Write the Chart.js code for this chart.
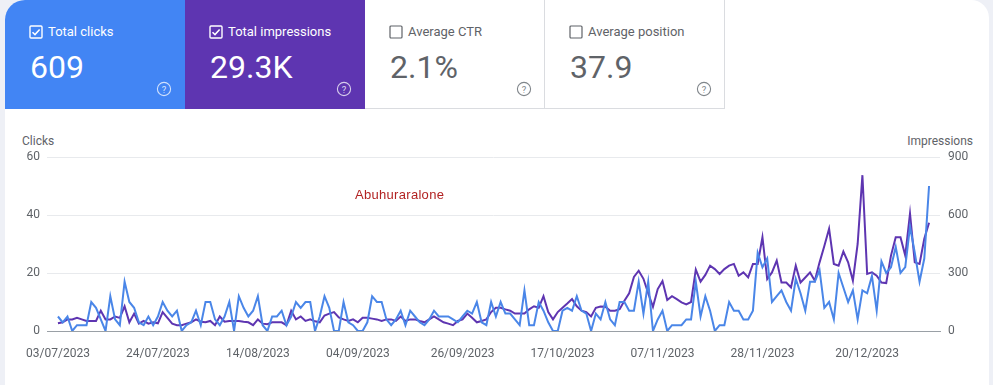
<!DOCTYPE html>
<html>
<head>
<meta charset="utf-8">
<script src="https://cdn.jsdelivr.net/npm/chart.js@4.4.1/dist/chart.umd.min.js"></script>
<style>
  html, body { margin: 0; padding: 0; }
  body { width: 993px; height: 385px; background: #eef0f6; font-family: Roboto, Arial, sans-serif; position: relative; overflow: hidden; }
  #card { position: absolute; left: 5px; top: 0; width: 984px; height: 400px; background: #fff; border-radius: 20px 18px 0 0; overflow: hidden; }
  .metric { position: absolute; top: 0; width: 180px; height: 109px; box-sizing: border-box; }
  .metric .lbl { position: absolute; left: 43px; top: 24px; font-size: 13px; line-height: 16px; }
  .metric .val { position: absolute; left: 25px; top: 51px; font-size: 32px; line-height: 32px; }
  .metric svg.cb { position: absolute; left: 24px; top: 25px; }
  .metric svg.help { position: absolute; left: 151px; top: 81px; }
  .on { color: #fff; }
  .off { color: #5f6368; border-right: 1px solid #dadce0; border-bottom: 1px solid #dadce0; }
  #wrap { position: absolute; left: 0; top: 131px; width: 993px; height: 254px; }
  .axt { position: absolute; top: 134px; font-size: 12px; line-height: 14px; color: #5f6368; }
  #wm { position: absolute; left: 355px; top: 187px; font-family: "Liberation Sans", Arial, sans-serif; font-size: 13px; color: #b22222; letter-spacing: 0.3px; }
</style>
</head>
<body>
<div id="card">
  <div class="metric on" style="left:0; background:#4285f4;">
    <svg class="cb" width="14" height="14" viewBox="0 0 14 14"><rect x="1" y="1" width="12" height="12" rx="1" fill="none" stroke="#fff" stroke-width="1.4"/><path d="M3.5 7.2 L6 9.6 L10.6 4.4" fill="none" stroke="#fff" stroke-width="1.5"/></svg>
    <div class="lbl">Total clicks</div>
    <div class="val">609</div>
    <svg class="help" width="16" height="16" viewBox="0 0 16 16"><circle cx="8" cy="8" r="6.6" fill="none" stroke="rgba(255,255,255,0.75)" stroke-width="1.1"/><text x="8" y="11.5" text-anchor="middle" font-size="9.5" fill="rgba(255,255,255,0.8)" font-family="Roboto">?</text></svg>
  </div>
  <div class="metric on" style="left:180px; background:#5e35b1;">
    <svg class="cb" width="14" height="14" viewBox="0 0 14 14"><rect x="1" y="1" width="12" height="12" rx="1" fill="none" stroke="#fff" stroke-width="1.4"/><path d="M3.5 7.2 L6 9.6 L10.6 4.4" fill="none" stroke="#fff" stroke-width="1.5"/></svg>
    <div class="lbl">Total impressions</div>
    <div class="val">29.3K</div>
    <svg class="help" width="16" height="16" viewBox="0 0 16 16"><circle cx="8" cy="8" r="6.6" fill="none" stroke="rgba(255,255,255,0.75)" stroke-width="1.1"/><text x="8" y="11.5" text-anchor="middle" font-size="9.5" fill="rgba(255,255,255,0.8)" font-family="Roboto">?</text></svg>
  </div>
  <div class="metric off" style="left:360px;">
    <svg class="cb" width="14" height="14" viewBox="0 0 14 14"><rect x="1" y="1" width="12" height="12" rx="1" fill="none" stroke="#5f6368" stroke-width="1.2"/></svg>
    <div class="lbl">Average CTR</div>
    <div class="val">2.1%</div>
    <svg class="help" width="16" height="16" viewBox="0 0 16 16"><circle cx="8" cy="8" r="6.6" fill="none" stroke="#80868b" stroke-width="1.1"/><text x="8" y="11.5" text-anchor="middle" font-size="9.5" fill="#80868b" font-family="Roboto">?</text></svg>
  </div>
  <div class="metric off" style="left:540px; width:180px;">
    <svg class="cb" width="14" height="14" viewBox="0 0 14 14"><rect x="1" y="1" width="12" height="12" rx="1" fill="none" stroke="#5f6368" stroke-width="1.2"/></svg>
    <div class="lbl">Average position</div>
    <div class="val">37.9</div>
    <svg class="help" width="16" height="16" viewBox="0 0 16 16"><circle cx="8" cy="8" r="6.6" fill="none" stroke="#80868b" stroke-width="1.1"/><text x="8" y="11.5" text-anchor="middle" font-size="9.5" fill="#80868b" font-family="Roboto">?</text></svg>
  </div>
</div>
<div class="axt" style="left:22px;">Clicks</div>
<div class="axt" style="right:20px;">Impressions</div>
<div id="wrap"><canvas id="chart" width="993" height="254"></canvas></div>
<div id="wm">Abuhuraralone</div>
<script>
// daily values, 03/07/2023 .. 02/01/2024
var startDate = new Date(2023, 6, 3);
var tickDates = ['03/07/2023', '24/07/2023', '14/08/2023', '04/09/2023', '26/09/2023',
                 '17/10/2023', '07/11/2023', '28/11/2023', '20/12/2023'];

var clicks = [
  5, 3, 5, 0, 2, 2, 2, 10, 8, 4, 0, 12, 4, 2, 17, 10, 8, 3, 2, 5,
  2, 5, 10, 7, 5, 7, 0, 2, 3, 7, 2, 10, 10, 4, 2, 5, 10, 0, 12, 8,
  5, 7, 12, 2, 0, 5, 5, 7, 2, 5, 10, 8, 10, 10, 0, 5, 12, 8, 0, 0,
  10, 3, 2, 0, 0, 3, 12, 10, 10, 4, 2, 4, 7, 2, 7, 5, 3, 2, 4, 7,
  5, 5, 5, 4, 3, 5, 7, 6, 10, 3, 2, 10, 5, 10, 6, 6, 4, 2, 14, 2,
  2, 10, 7, 3, 0, 0, 7, 8, 7, 12, 7, 6, 0, 6, 4, 10, 4, 2, 10, 10,
  7, 7, 17, 6, 17, 0, 4, 7, 0, 2, 2, 2, 4, 4, 17, 5, 12, 7, 0, 2,
  2, 10, 7, 7, 4, 4, 7, 27, 22, 25, 10, 12, 14, 10, 7, 18, 13, 7, 17, 17,
  21, 8, 10, 4, 20, 15, 10, 14, 4, 14, 13, 19, 7, 24, 20, 22, 29, 20, 22, 36,
  27, 17, 25, 50
];

var impressions = [
  40, 45, 60, 60, 68, 60, 52, 52, 52, 105, 60, 60, 75, 68, 128, 45, 90, 38, 52, 38,
  45, 40, 98, 68, 38, 30, 30, 38, 45, 60, 48, 45, 52, 30, 75, 48, 52, 52, 52, 48,
  45, 30, 60, 38, 35, 45, 45, 45, 30, 105, 60, 75, 52, 60, 50, 45, 80, 90, 98, 70,
  60, 52, 60, 45, 68, 68, 64, 60, 52, 60, 60, 52, 75, 52, 60, 60, 52, 45, 60, 75,
  60, 45, 38, 30, 52, 60, 90, 68, 45, 52, 60, 98, 120, 120, 112, 105, 90, 90, 90, 112,
  128, 120, 180, 98, 60, 98, 120, 142, 165, 128, 105, 98, 75, 120, 127, 126, 105, 105, 113, 156,
  195, 280, 312, 270, 195, 125, 217, 258, 160, 180, 165, 148, 138, 150, 318, 255, 290, 338, 320, 295,
  320, 338, 347, 286, 303, 277, 347, 347, 485, 269, 303, 364, 251, 251, 225, 338, 251, 277, 303, 260,
  355, 440, 529, 347, 338, 411, 355, 260, 450, 806, 295, 303, 286, 251, 248, 390, 485, 485, 390, 607,
  355, 347, 477, 560
];

var clicksTicks = [0, 20, 40, 60];
var imprTicks = [0, 300, 600, 900];

function pad(n) { return (n < 10 ? '0' : '') + n; }
var dates = [];
for (var i = 0; i < clicks.length; i++) {
  var d = new Date(startDate.getFullYear(), startDate.getMonth(), startDate.getDate() + i);
  dates.push(pad(d.getDate()) + '/' + pad(d.getMonth() + 1) + '/' + d.getFullYear());
}
var tickIdx = tickDates.map(function (t) { return dates.indexOf(t); });

var ctx = document.getElementById('chart').getContext('2d');
new Chart(ctx, {
  type: 'line',
  data: {
    datasets: [{
      label: 'Clicks',
      data: clicks.map(function (v, i) { return { x: i, y: v }; }),
      borderColor: '#4a86e8',
      borderWidth: 2,
      pointRadius: 0,
      tension: 0,
      yAxisID: 'y'
    }, {
      label: 'Impressions',
      data: impressions.map(function (v, i) { return { x: i, y: v }; }),
      borderColor: '#5e35b1',
      borderWidth: 2,
      pointRadius: 0,
      tension: 0,
      yAxisID: 'y1'
    }]
  },
  options: {
    responsive: false,
    animation: false,
    layout: { padding: { top: 26 } },
    plugins: { legend: { display: false }, tooltip: { enabled: false } },
    scales: {
      x: {
        type: 'linear',
        min: -2.3,
        max: 185.3,
        afterFit: function (s) { s.height = 54; },
        afterBuildTicks: function (s) { s.ticks = tickIdx.map(function (v) { return { value: v }; }); },
        grid: { display: false, drawTicks: false },
        border: { display: true, color: '#9aa0a6', width: 1 },
        ticks: {
          autoSkip: false, maxRotation: 0, padding: 16,
          color: '#5f6368', font: { family: 'Roboto', size: 12 },
          callback: function (v) { return dates[v]; }
        }
      },
      y: {
        position: 'left',
        min: 0, max: 60,
        afterFit: function (s) { s.width = 47; },
        afterBuildTicks: function (s) { s.ticks = clicksTicks.map(function (v) { return { value: v }; }); },
        grid: { color: '#e8eaed', drawTicks: false },
        border: { display: false },
        ticks: { padding: 7, color: '#5f6368', font: { family: 'Roboto', size: 12 } }
      },
      y1: {
        position: 'right',
        min: 0, max: 900,
        afterFit: function (s) { s.width = 53; },
        afterBuildTicks: function (s) { s.ticks = imprTicks.map(function (v) { return { value: v }; }); },
        grid: { display: false, drawTicks: false },
        border: { display: false },
        ticks: { padding: 8, color: '#5f6368', font: { family: 'Roboto', size: 12 } }
      }
    }
  }
});
</script>
</body>
</html>
